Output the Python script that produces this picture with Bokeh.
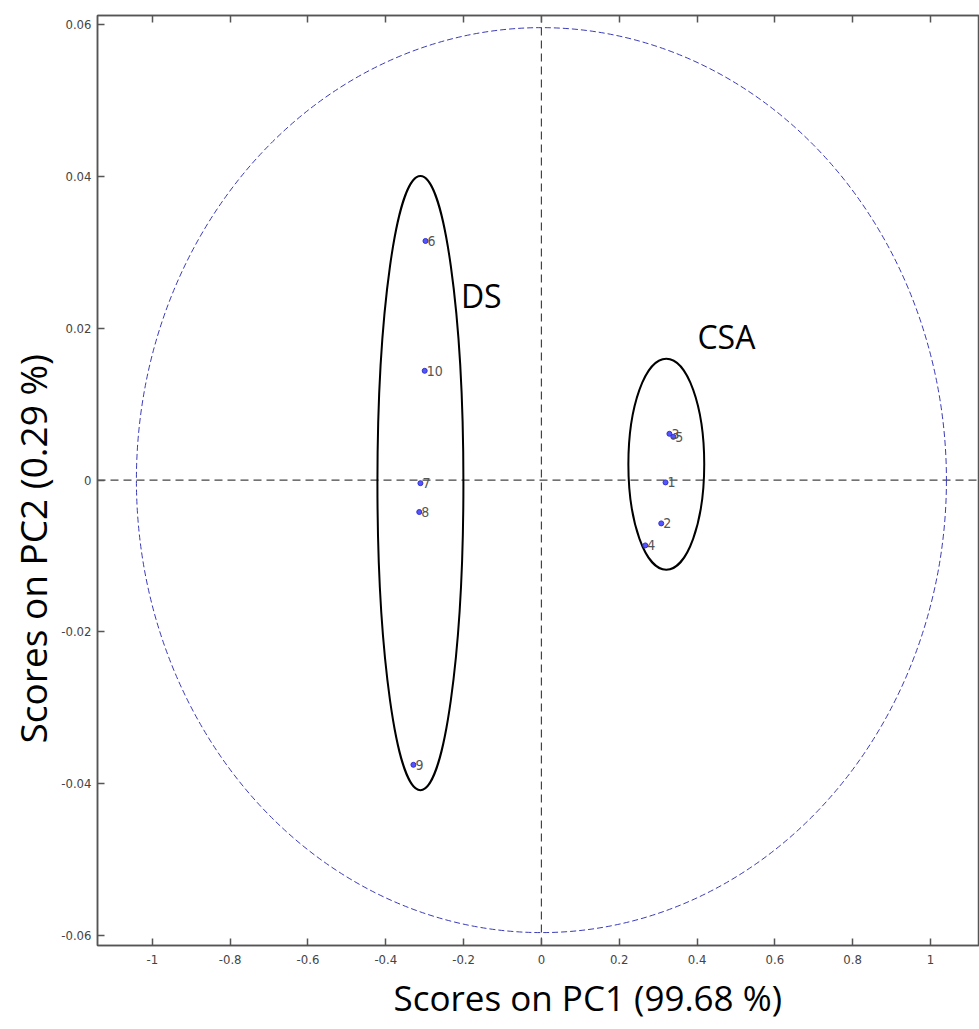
import numpy as np
from bokeh.plotting import figure
from bokeh.models import Range1d, LinearAxis, FixedTicker, Title, ColumnDataSource
from bokeh.core.properties import value
from bokeh.embed import file_html
from bokeh.resources import INLINE

# sample scores
sample_ids = ["1", "2", "3", "4", "5", "6", "7", "8", "9", "10"]
pc1_scores = [0.319, 0.308, 0.329, 0.267, 0.339, -0.298, -0.311, -0.314, -0.329, -0.300]
pc2_scores = [-0.0003, -0.0057, 0.0061, -0.0086, 0.0057, 0.0315, -0.0004, -0.0042, -0.0375, 0.0144]

# group ellipses: name, center x, center y, width, height
group_names = ["DS", "CSA"]
group_cx = [-0.311, 0.321]
group_cy = [-0.0004, 0.0021]
group_w = [0.221, 0.195]
group_h = [0.0809, 0.0278]
group_label_x = [-0.207, 0.401]
group_label_y = [0.0243, 0.0189]

# confidence ellipse
conf_w = 2.082
conf_h = 0.1192

x_ticks = [-1, -0.8, -0.6, -0.4, -0.2, 0, 0.2, 0.4, 0.6, 0.8, 1]
y_ticks = [-0.06, -0.04, -0.02, 0, 0.02, 0.04, 0.06]

x_title = "Scores on PC1 (99.68 %)"
y_title = "Scores on PC2 (0.29 %)"

p = figure(width=979, height=1025, output_backend="svg", toolbar_location=None,
           x_range=Range1d(-1.141, 1.126), y_range=Range1d(-0.0613, 0.0612),
           min_border_left=97, min_border_top=15, min_border_bottom=20, min_border_right=0,
           x_axis_location="below", y_axis_location="left")
p.grid.visible = False
p.outline_line_color = "#555555"
p.outline_line_width = 1.5
p.background_fill_color = "white"

tick_font = "'DejaVu Sans Condensed', 'Liberation Sans'"
for ax in [p.xaxis[0], p.yaxis[0]]:
    ax.major_tick_in = 7
    ax.major_tick_out = 0
    ax.minor_tick_line_color = None
    ax.axis_line_color = "#555555"
    ax.axis_line_width = 1.5
    ax.major_tick_line_color = "#555555"
    ax.major_tick_line_width = 1.5
    ax.major_label_text_font = tick_font
    ax.major_label_text_font_size = "13px"
    ax.major_label_text_color = "#444444"
p.xaxis.ticker = FixedTicker(ticks=x_ticks)
p.yaxis.ticker = FixedTicker(ticks=y_ticks)
p.xaxis.major_label_overrides = {v: ("%g" % v) for v in x_ticks}
p.yaxis.major_label_overrides = {v: ("%g" % v) for v in y_ticks}
p.xaxis.major_label_standoff = 9
p.yaxis.major_label_standoff = 6

top_ax = LinearAxis(ticker=FixedTicker(ticks=x_ticks), major_tick_in=7, major_tick_out=0,
                    minor_tick_line_color=None, major_label_text_alpha=0,
                    major_label_text_font_size="1px", major_label_standoff=0,
                    axis_line_color="#555555", axis_line_width=1.5,
                    major_tick_line_color="#555555", major_tick_line_width=1.5)
p.add_layout(top_ax, "above")

# crosshair
p.line(x=[0, 0], y=[-0.0613, 0.0612], line_color="#444444", line_dash="8 5", line_width=1.2)
p.line(x=[-1.141, 1.126], y=[0, 0], line_color="#444444", line_dash="8 5", line_width=1.2)

# confidence ellipse
p.ellipse(x=[0], y=[0], width=[conf_w], height=[conf_h], fill_color=None,
          line_color="#3a3ab8", line_dash="6 3", line_width=1)

# group ellipses
gsrc = ColumnDataSource(dict(x=group_cx, y=group_cy, w=group_w, h=group_h,
                             lx=group_label_x, ly=group_label_y, name=group_names))
p.ellipse(x="x", y="y", width="w", height="h", source=gsrc, fill_color=None,
          line_color="black", line_width=2)
p.text(x="lx", y="ly", text="name", source=gsrc, text_font=value("Open Sans"),
       text_font_size="32px", text_color="black", text_baseline="middle", text_align="left")

# points
src = ColumnDataSource(dict(x=pc1_scores, y=pc2_scores, label=sample_ids))
p.scatter(x="x", y="y", source=src, size=5, fill_color="#5555ff", line_color="#3333cc")
p.text(x="x", y="y", text="label", source=src, x_offset=2, text_font=value(tick_font),
       text_font_size="14px", text_color="#555555", text_baseline="middle", text_align="left")

# axis titles
p.add_layout(Title(text=x_title, text_font="Open Sans", text_font_size="35px",
                   text_font_style="normal", align="left", offset=296, standoff=10,
                   text_color="black"), "below")
p.add_layout(Title(text=y_title, text_font="Open Sans", text_font_size="37px",
                   text_font_style="normal", align="left", offset=202, standoff=2,
                   text_color="black"), "left")

open("out.html", "w").write(file_html(p, INLINE))
